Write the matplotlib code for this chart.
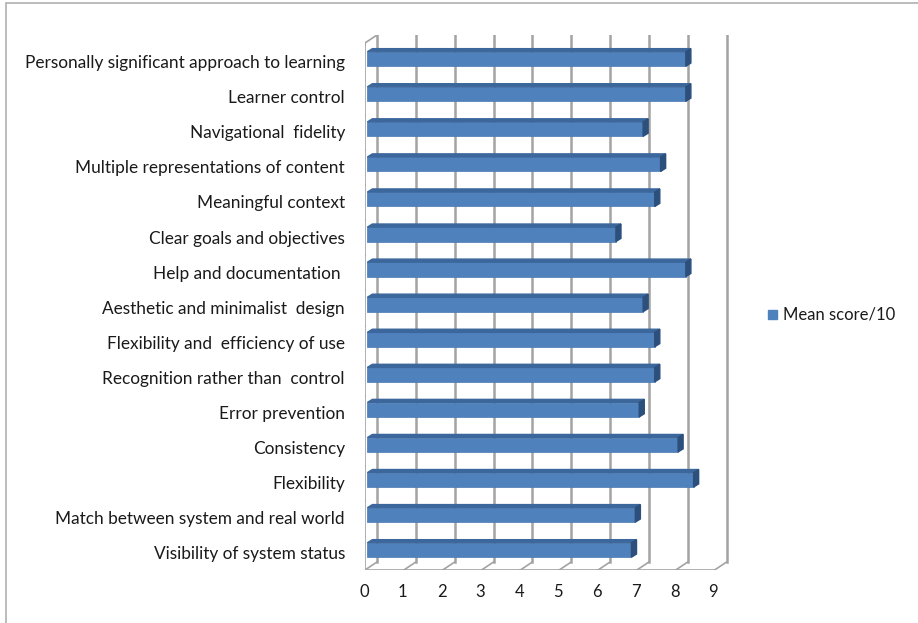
import matplotlib.pyplot as plt
from matplotlib.patches import Polygon, Rectangle

categories = [
    'Personally significant approach to learning',
    'Learner control',
    'Navigational  fidelity',
    'Multiple representations of content',
    'Meaningful context',
    'Clear goals and objectives',
    'Help and documentation ',
    'Aesthetic and minimalist  design',
    'Flexibility and  efficiency of use',
    'Recognition rather than  control',
    'Error prevention',
    'Consistency',
    'Flexibility',
    'Match between system and real world',
    'Visibility of system status',
]
scores = [8.2, 8.2, 7.1, 7.55, 7.4, 6.4, 8.2, 7.1, 7.4, 7.4, 7.0, 8.0, 8.4, 6.9, 6.8]
ticks = list(range(10))
series_name = 'Mean score/10'

FONT = 'Lato'
W, H = 918, 623


def make_plot():
    fig = plt.figure(figsize=(W / 100, H / 100), dpi=100)
    fig.patches.append(Rectangle((6 / W, -0.5), 1.2, 1.5 - 3.5 / H, transform=fig.transFigure,
                                 fill=False, edgecolor='#b0b0b0', lw=1.2))

    # axes covers the 3-D box: x in value units, y in category units
    ax = fig.add_axes([365 / W, 1 - 570 / H, 369 / W, 535 / H])
    ax.set_xlim(0, 9.5)
    ax.set_ylim(14.57, -0.684)
    ax.axis('off')

    dx, dy = 0.309, 0.228       # depth of the box
    top, back_bot, front_bot = -0.684, 14.57 - dy, 14.57
    grid = '#a3a3a3'

    # back wall gridlines and floor lines
    for t in ticks:
        ax.plot([t + dx, t + dx], [top, back_bot], color=grid, lw=1.8, zorder=1)
        ax.plot([t, t + dx], [front_bot, back_bot], color=grid, lw=1.2, zorder=1)
    ax.plot([0, ticks[-1]], [front_bot, front_bot], color=grid, lw=1.2, zorder=1)
    # side wall
    ax.plot([0, 0], [top + dy, front_bot], color=grid, lw=1.2, zorder=1)
    ax.plot([0, dx], [top + dy, top], color=grid, lw=1.2, zorder=1)
    for k in range(-1, len(categories)):
        ax.plot([-0.13, 0], [k + 0.6, k + 0.6], color=grid, lw=1.2, zorder=1)
    for t in ticks:
        ax.plot([t, t], [front_bot, front_bot + 0.12], color=grid, lw=1.2, zorder=1)
        ax.text(t - 0.03, front_bot + 0.62, str(t), ha='center', va='center',
                fontsize=12, family=FONT, color='#1a1a1a')

    # bars with a top and a side face
    h, left, bdx, bdy = 0.41, 0.06, 0.13, 0.09
    ax.barh(range(len(scores)), scores, height=h, left=left, color='#4f81bd',
            edgecolor='#4a7ab3', lw=0.5, zorder=3)
    for i, v in enumerate(scores):
        y0, y1 = i - h / 2, i + h / 2
        x1 = left + v
        ax.add_patch(Polygon([(left, y0), (x1, y0), (x1 + bdx, y0 - bdy), (left + bdx, y0 - bdy)],
                             closed=True, color='#3b679c', zorder=3))
        ax.add_patch(Polygon([(x1, y0), (x1, y1), (x1 + bdx, y1 - bdy), (x1 + bdx, y0 - bdy)],
                             closed=True, color='#2c4f7c', zorder=3))
        ax.text(-0.515, i + 0.12, categories[i], ha='right', va='center',
                fontsize=12.4, family=FONT, color='#1a1a1a')

    # legend
    fig.patches.append(Rectangle((768 / W, 1 - 319 / H), 9 / W, 9 / H,
                                 transform=fig.transFigure, color='#4f81bd'))
    fig.text(783 / W, 1 - 315 / H, series_name, ha='left', va='center',
             fontsize=12, family=FONT, color='#1a1a1a')

    fig.savefig('out.png', dpi=100)
    plt.close()


if __name__ == '__main__':
    make_plot()
